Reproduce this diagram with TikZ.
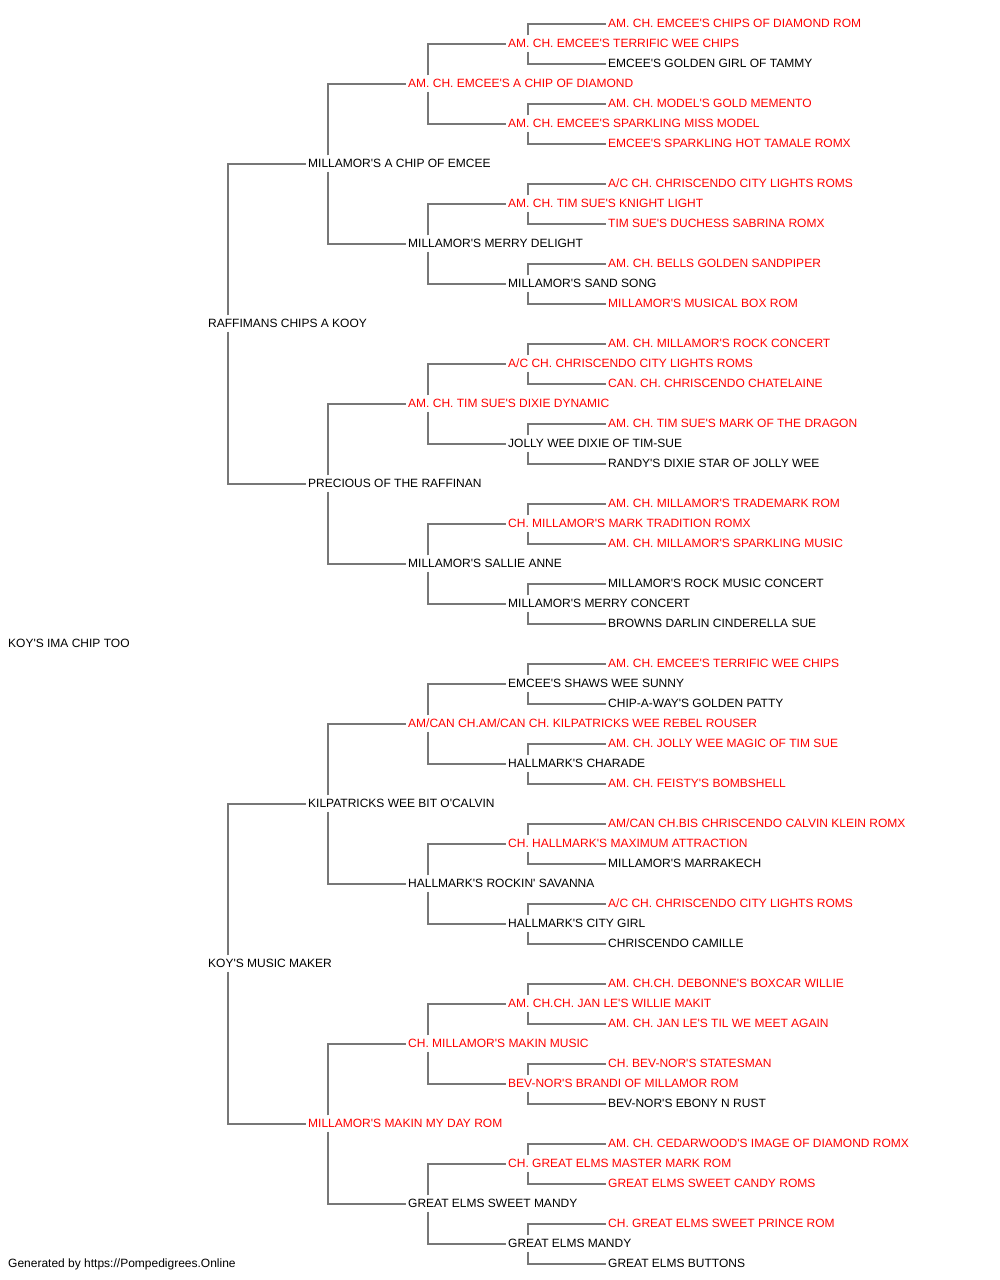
\documentclass[tikz,border=0pt]{standalone}
\usepackage{fontspec}
\setmainfont{Liberation Sans}[Ligatures=TeXOff]
\usepackage{xcolor}
\definecolor{champ}{HTML}{FF0000}
\definecolor{link}{HTML}{777777}

\begin{document}
\begin{tikzpicture}[x=1pt,y=-1pt,font=\fontsize{12}{14}\selectfont]
    \tikzstyle{D}=[anchor=west,inner xsep=2pt,inner ysep=3.7pt,text height=8.6pt,text depth=0pt]
    \tikzstyle{C}=[D,text=champ]
    \tikzstyle{L}=[draw=link,line width=2pt]

    \useasboundingbox (0,0) rectangle (1000,1280);

    % Dog
    \node [D] (dog) at (6, 643.5) {KOY'S IMA CHIP TOO};

    % Parents
    \node [D] (s) at (206, 323.5) {RAFFIMANS CHIPS A KOOY};
    \node [D] (d) at (206, 963.5) {KOY'S MUSIC MAKER};

    % Grandparents
    \node [D] (ss) at (306, 163.5) {MILLAMOR'S A CHIP OF EMCEE};
    \node [D] (sd) at (306, 483.5) {PRECIOUS OF THE RAFFINAN};
    \node [D] (ds) at (306, 803.5) {KILPATRICKS WEE BIT O'CALVIN};
    \node [C] (dd) at (306, 1123.5) {MILLAMOR'S MAKIN MY DAY ROM};

    % Great-grandparents
    \node [C] (sss) at (406, 83.5) {AM. CH. EMCEE'S A CHIP OF DIAMOND};
    \node [D] (ssd) at (406, 243.5) {MILLAMOR'S MERRY DELIGHT};
    \node [C] (sds) at (406, 403.5) {AM. CH. TIM SUE'S DIXIE DYNAMIC};
    \node [D] (sdd) at (406, 563.5) {MILLAMOR'S SALLIE ANNE};
    \node [C] (dss) at (406, 723.5) {AM/CAN CH.AM/CAN CH. KILPATRICKS WEE REBEL ROUSER};
    \node [D] (dsd) at (406, 883.5) {HALLMARK'S ROCKIN' SAVANNA};
    \node [C] (dds) at (406, 1043.5) {CH. MILLAMOR'S MAKIN MUSIC};
    \node [D] (ddd) at (406, 1203.5) {GREAT ELMS SWEET MANDY};

    % 4th generation
    \node [C] (ssss) at (506, 43.5) {AM. CH. EMCEE'S TERRIFIC WEE CHIPS};
    \node [C] (sssd) at (506, 123.5) {AM. CH. EMCEE'S SPARKLING MISS MODEL};
    \node [C] (ssds) at (506, 203.5) {AM. CH. TIM SUE'S KNIGHT LIGHT};
    \node [D] (ssdd) at (506, 283.5) {MILLAMOR'S SAND SONG};
    \node [C] (sdss) at (506, 363.5) {A/C CH. CHRISCENDO CITY LIGHTS ROMS};
    \node [D] (sdsd) at (506, 443.5) {JOLLY WEE DIXIE OF TIM-SUE};
    \node [C] (sdds) at (506, 523.5) {CH. MILLAMOR'S MARK TRADITION ROMX};
    \node [D] (sddd) at (506, 603.5) {MILLAMOR'S MERRY CONCERT};
    \node [D] (dsss) at (506, 683.5) {EMCEE'S SHAWS WEE SUNNY};
    \node [D] (dssd) at (506, 763.5) {HALLMARK'S CHARADE};
    \node [C] (dsds) at (506, 843.5) {CH. HALLMARK'S MAXIMUM ATTRACTION};
    \node [D] (dsdd) at (506, 923.5) {HALLMARK'S CITY GIRL};
    \node [C] (ddss) at (506, 1003.5) {AM. CH.CH. JAN LE'S WILLIE MAKIT};
    \node [C] (ddsd) at (506, 1083.5) {BEV-NOR'S BRANDI OF MILLAMOR ROM};
    \node [C] (ddds) at (506, 1163.5) {CH. GREAT ELMS MASTER MARK ROM};
    \node [D] (dddd) at (506, 1243.5) {GREAT ELMS MANDY};

    % 5th generation
    \node [C] (sssss) at (606, 23.5) {AM. CH. EMCEE'S CHIPS OF DIAMOND ROM};
    \node [D] (ssssd) at (606, 63.5) {EMCEE'S GOLDEN GIRL OF TAMMY};
    \node [C] (sssds) at (606, 103.5) {AM. CH. MODEL'S GOLD MEMENTO};
    \node [C] (sssdd) at (606, 143.5) {EMCEE'S SPARKLING HOT TAMALE ROMX};
    \node [C] (ssdss) at (606, 183.5) {A/C CH. CHRISCENDO CITY LIGHTS ROMS};
    \node [C] (ssdsd) at (606, 223.5) {TIM SUE'S DUCHESS SABRINA ROMX};
    \node [C] (ssdds) at (606, 263.5) {AM. CH. BELLS GOLDEN SANDPIPER};
    \node [C] (ssddd) at (606, 303.5) {MILLAMOR'S MUSICAL BOX ROM};
    \node [C] (sdsss) at (606, 343.5) {AM. CH. MILLAMOR'S ROCK CONCERT};
    \node [C] (sdssd) at (606, 383.5) {CAN. CH. CHRISCENDO CHATELAINE};
    \node [C] (sdsds) at (606, 423.5) {AM. CH. TIM SUE'S MARK OF THE DRAGON};
    \node [D] (sdsdd) at (606, 463.5) {RANDY'S DIXIE STAR OF JOLLY WEE};
    \node [C] (sddss) at (606, 503.5) {AM. CH. MILLAMOR'S TRADEMARK ROM};
    \node [C] (sddsd) at (606, 543.5) {AM. CH. MILLAMOR'S SPARKLING MUSIC};
    \node [D] (sddds) at (606, 583.5) {MILLAMOR'S ROCK MUSIC CONCERT};
    \node [D] (sdddd) at (606, 623.5) {BROWNS DARLIN CINDERELLA SUE};
    \node [C] (dssss) at (606, 663.5) {AM. CH. EMCEE'S TERRIFIC WEE CHIPS};
    \node [D] (dsssd) at (606, 703.5) {CHIP-A-WAY'S GOLDEN PATTY};
    \node [C] (dssds) at (606, 743.5) {AM. CH. JOLLY WEE MAGIC OF TIM SUE};
    \node [C] (dssdd) at (606, 783.5) {AM. CH. FEISTY'S BOMBSHELL};
    \node [C] (dsdss) at (606, 823.5) {AM/CAN CH.BIS CHRISCENDO CALVIN KLEIN ROMX};
    \node [D] (dsdsd) at (606, 863.5) {MILLAMOR'S MARRAKECH};
    \node [C] (dsdds) at (606, 903.5) {A/C CH. CHRISCENDO CITY LIGHTS ROMS};
    \node [D] (dsddd) at (606, 943.5) {CHRISCENDO CAMILLE};
    \node [C] (ddsss) at (606, 983.5) {AM. CH.CH. DEBONNE'S BOXCAR WILLIE};
    \node [C] (ddssd) at (606, 1023.5) {AM. CH. JAN LE'S TIL WE MEET AGAIN};
    \node [C] (ddsds) at (606, 1063.5) {CH. BEV-NOR'S STATESMAN};
    \node [D] (ddsdd) at (606, 1103.5) {BEV-NOR'S EBONY N RUST};
    \node [C] (dddss) at (606, 1143.5) {AM. CH. CEDARWOOD'S IMAGE OF DIAMOND ROMX};
    \node [C] (dddsd) at (606, 1183.5) {GREAT ELMS SWEET CANDY ROMS};
    \node [C] (dddds) at (606, 1223.5) {CH. GREAT ELMS SWEET PRINCE ROM};
    \node [D] (ddddd) at (606, 1263.5) {GREAT ELMS BUTTONS};

    % Footer
    \node [D] (credit) at (6, 1263.5) {Generated by https://Pompedigrees.Online};

    % Links to sire and dam
    \draw [L] ([xshift=22pt]s.north west) |- (ss.west) ([xshift=22pt]s.south west) |- (sd.west);
    \draw [L] ([xshift=22pt]d.north west) |- (ds.west) ([xshift=22pt]d.south west) |- (dd.west);

    \draw [L] ([xshift=22pt]ss.north west) |- (sss.west) ([xshift=22pt]ss.south west) |- (ssd.west);
    \draw [L] ([xshift=22pt]sd.north west) |- (sds.west) ([xshift=22pt]sd.south west) |- (sdd.west);
    \draw [L] ([xshift=22pt]ds.north west) |- (dss.west) ([xshift=22pt]ds.south west) |- (dsd.west);
    \draw [L] ([xshift=22pt]dd.north west) |- (dds.west) ([xshift=22pt]dd.south west) |- (ddd.west);

    \draw [L] ([xshift=22pt]sss.north west) |- (ssss.west) ([xshift=22pt]sss.south west) |- (sssd.west);
    \draw [L] ([xshift=22pt]ssd.north west) |- (ssds.west) ([xshift=22pt]ssd.south west) |- (ssdd.west);
    \draw [L] ([xshift=22pt]sds.north west) |- (sdss.west) ([xshift=22pt]sds.south west) |- (sdsd.west);
    \draw [L] ([xshift=22pt]sdd.north west) |- (sdds.west) ([xshift=22pt]sdd.south west) |- (sddd.west);
    \draw [L] ([xshift=22pt]dss.north west) |- (dsss.west) ([xshift=22pt]dss.south west) |- (dssd.west);
    \draw [L] ([xshift=22pt]dsd.north west) |- (dsds.west) ([xshift=22pt]dsd.south west) |- (dsdd.west);
    \draw [L] ([xshift=22pt]dds.north west) |- (ddss.west) ([xshift=22pt]dds.south west) |- (ddsd.west);
    \draw [L] ([xshift=22pt]ddd.north west) |- (ddds.west) ([xshift=22pt]ddd.south west) |- (dddd.west);

    \draw [L] ([xshift=22pt]ssss.north west) |- (sssss.west) ([xshift=22pt]ssss.south west) |- (ssssd.west);
    \draw [L] ([xshift=22pt]sssd.north west) |- (sssds.west) ([xshift=22pt]sssd.south west) |- (sssdd.west);
    \draw [L] ([xshift=22pt]ssds.north west) |- (ssdss.west) ([xshift=22pt]ssds.south west) |- (ssdsd.west);
    \draw [L] ([xshift=22pt]ssdd.north west) |- (ssdds.west) ([xshift=22pt]ssdd.south west) |- (ssddd.west);
    \draw [L] ([xshift=22pt]sdss.north west) |- (sdsss.west) ([xshift=22pt]sdss.south west) |- (sdssd.west);
    \draw [L] ([xshift=22pt]sdsd.north west) |- (sdsds.west) ([xshift=22pt]sdsd.south west) |- (sdsdd.west);
    \draw [L] ([xshift=22pt]sdds.north west) |- (sddss.west) ([xshift=22pt]sdds.south west) |- (sddsd.west);
    \draw [L] ([xshift=22pt]sddd.north west) |- (sddds.west) ([xshift=22pt]sddd.south west) |- (sdddd.west);
    \draw [L] ([xshift=22pt]dsss.north west) |- (dssss.west) ([xshift=22pt]dsss.south west) |- (dsssd.west);
    \draw [L] ([xshift=22pt]dssd.north west) |- (dssds.west) ([xshift=22pt]dssd.south west) |- (dssdd.west);
    \draw [L] ([xshift=22pt]dsds.north west) |- (dsdss.west) ([xshift=22pt]dsds.south west) |- (dsdsd.west);
    \draw [L] ([xshift=22pt]dsdd.north west) |- (dsdds.west) ([xshift=22pt]dsdd.south west) |- (dsddd.west);
    \draw [L] ([xshift=22pt]ddss.north west) |- (ddsss.west) ([xshift=22pt]ddss.south west) |- (ddssd.west);
    \draw [L] ([xshift=22pt]ddsd.north west) |- (ddsds.west) ([xshift=22pt]ddsd.south west) |- (ddsdd.west);
    \draw [L] ([xshift=22pt]ddds.north west) |- (dddss.west) ([xshift=22pt]ddds.south west) |- (dddsd.west);
    \draw [L] ([xshift=22pt]dddd.north west) |- (dddds.west) ([xshift=22pt]dddd.south west) |- (ddddd.west);
\end{tikzpicture}
\end{document}
